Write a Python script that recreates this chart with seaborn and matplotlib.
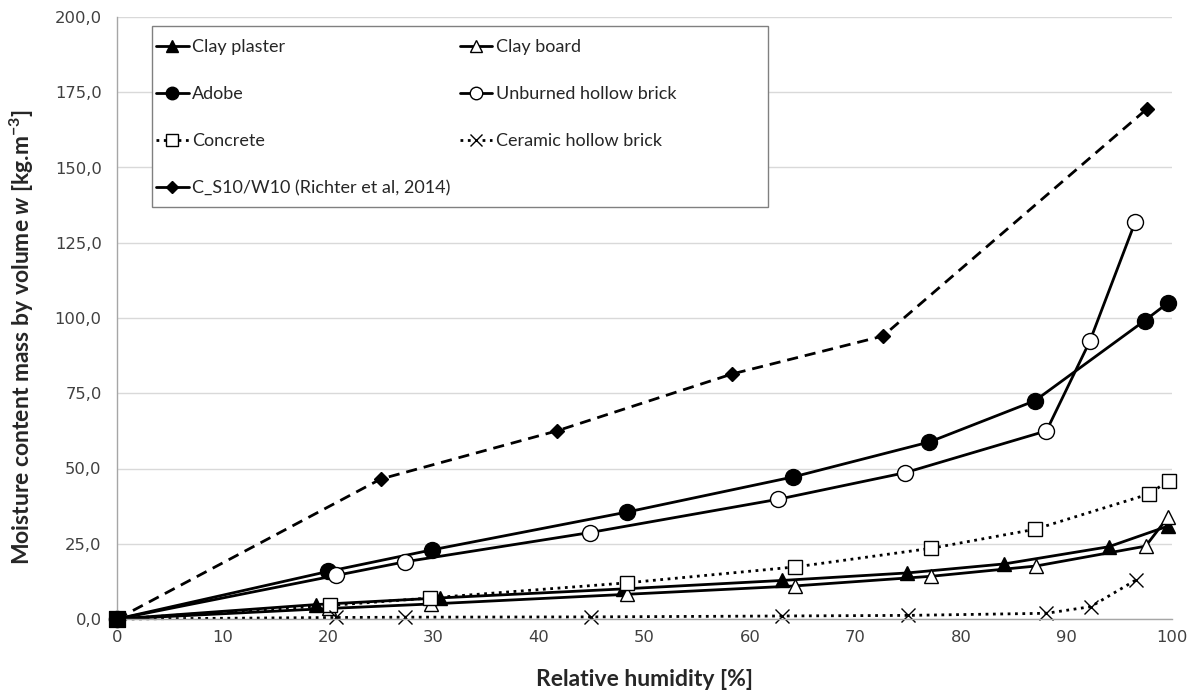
import matplotlib
matplotlib.use("Agg")
import matplotlib.pyplot as plt
from matplotlib.lines import Line2D
from matplotlib.patches import Rectangle
from matplotlib.ticker import FuncFormatter
import seaborn as sns
import pandas as pd

# ---- data ----
rh_plaster = [0, 18.9, 30.6, 48.0, 63.0, 74.9, 84.1, 94.0, 99.65]
w_plaster = [0, 4.8, 7.0, 10.0, 12.8, 15.3, 18.3, 24.0, 30.9]

rh_board = [0, 20.1, 29.8, 48.3, 64.3, 77.2, 87.1, 97.5, 99.65]
w_board = [0, 3.5, 5.0, 8.2, 11.0, 14.2, 17.6, 24.2, 34.0]

rh_adobe = [0, 20.0, 29.9, 48.3, 64.1, 77.0, 87.0, 97.4, 99.65]
w_adobe = [0, 15.8, 23.0, 35.5, 47.2, 58.8, 72.5, 99.1, 105.1]

rh_unburned = [0, 20.8, 27.3, 44.8, 62.7, 74.7, 88.1, 92.2, 96.5]
w_unburned = [0, 14.5, 19.0, 28.7, 39.8, 48.6, 62.5, 92.2, 131.8]

rh_concrete = [0, 20.2, 29.7, 48.3, 64.3, 77.2, 87.0, 97.8, 99.7]
w_concrete = [0, 4.5, 7.0, 12.0, 17.3, 23.5, 29.8, 41.5, 46.0]

rh_ceramic = [0, 20.8, 27.3, 44.9, 63.0, 75.0, 88.1, 92.3, 96.6]
w_ceramic = [0, 0.5, 0.6, 0.7, 1.0, 1.2, 1.9, 4.1, 13.0]

rh_richter = [0, 25.0, 41.7, 58.3, 72.6, 97.6]
w_richter = [0, 46.5, 62.5, 81.4, 94.0, 169.4]

labels = ["Clay plaster", "Clay board", "Adobe", "Unburned hollow brick",
          "Concrete", "Ceramic hollow brick", "C_S10/W10 (Richter et al, 2014)"]

x_ticks = list(range(0, 101, 10))
y_ticks = list(range(0, 201, 25))

# ---- styling ----
sns.set_theme(style="white")
plt.rcParams["font.family"] = ["Lato", "DejaVu Sans"]
plt.rcParams["mathtext.fontset"] = "custom"
plt.rcParams["mathtext.rm"] = "Lato"
plt.rcParams["mathtext.it"] = "Lato:italic"
plt.rcParams["mathtext.bf"] = "Lato:bold"
plt.rcParams["mathtext.bfit"] = "Lato:bold:italic"

W, H = 1187, 695
fig = plt.figure(figsize=(W / 100, H / 100), dpi=100)
ax = fig.add_axes([117 / W, 76 / H, (1172 - 117) / W, (619 - 17) / H])

series = [
    (rh_plaster, w_plaster, dict(marker="^", ms=10, mfc="black", ls="-", start=0)),
    (rh_board, w_board, dict(marker="^", ms=10, mfc="white", ls="-", start=0)),
    (rh_adobe, w_adobe, dict(marker="o", ms=11.5, mfc="black", ls="-", start=0)),
    (rh_unburned, w_unburned, dict(marker="o", ms=11.5, mfc="white", ls="-", start=0)),
    (rh_concrete, w_concrete, dict(marker="s", ms=10.5, mfc="white", ls=":", start=1)),
    (rh_ceramic, w_ceramic, dict(marker="x", ms=10, mfc="black", ls=":", start=0)),
    (rh_richter, w_richter, dict(marker="D", ms=7, mfc="black", ls=(0, (4, 2.5)), start=0)),
]

for (xs, ys, st), lab in zip(series, labels):
    df = pd.DataFrame({"rh": xs, "w": ys})
    sns.lineplot(data=df, x="rh", y="w", ax=ax, color="black", linewidth=2,
                 linestyle=st["ls"], marker=st["marker"], markersize=st["ms"],
                 markerfacecolor=st["mfc"], markeredgecolor="black",
                 markeredgewidth=1.0, sort=False, legend=False,
                 markevery=slice(st["start"], None), clip_on=False)

# origin point of the concrete series appears as a solid black square
sns.scatterplot(x=rh_concrete[:1], y=w_concrete[:1], ax=ax, marker="s", s=130,
                color="black", edgecolor="black", legend=False, clip_on=False,
                zorder=5)

ax.set_xlim(0, 100)
ax.set_ylim(0, 200)
ax.set_xticks(x_ticks)
ax.set_yticks(y_ticks)
ax.yaxis.set_major_formatter(FuncFormatter(lambda v, p: f"{v:.1f}".replace(".", ",")))
ax.grid(axis="y", color="#d9d9d9", linewidth=1)
ax.grid(axis="x", visible=False)
ax.set_axisbelow(True)
for s in ["top", "right"]:
    ax.spines[s].set_visible(False)
for s in ["left", "bottom"]:
    ax.spines[s].set_color("#a6a6a6")
    ax.spines[s].set_linewidth(1)
ax.tick_params(axis="both", length=0, labelsize=11.8, colors="#404040")
for t in ax.get_xticklabels() + ax.get_yticklabels():
    t.set_family(["DejaVu Sans"])
ax.tick_params(axis="y", pad=11)
ax.tick_params(axis="x", pad=8)

ax.set_xlabel("Relative humidity [%]", fontsize=16.5, fontweight="bold")
ax.set_ylabel(r"Moisture content mass by volume $\mathbfit{w}$ [kg.m$^{\mathbf{-3}}$]",
              fontsize=16.5, fontweight="bold")
ax.xaxis.set_label_coords((645 - 117) / 1055, -(680 - 619) / 602)
ax.yaxis.set_label_coords((22 - 117) / 1055, (619 - 337) / 602)
ax.xaxis.label.set_va("center")
ax.yaxis.label.set_va("center")

# legend box (fixed size, as in the reference)
box = Rectangle((152 / W, (H - 207) / H), 616 / W, 181 / H, transform=fig.transFigure,
                facecolor="white", edgecolor="#808080", linewidth=1, zorder=6)
fig.add_artist(box)


def h(marker, ms, mfc, ls):
    return Line2D([0], [0], color="black", lw=2, ls=ls, marker=marker, markersize=ms,
                  markerfacecolor=mfc, markeredgecolor="black", markeredgewidth=1)


handles = {
    "Clay plaster": h("^", 8, "black", "-"),
    "Clay board": h("^", 8, "white", "-"),
    "Adobe": h("o", 9, "black", "-"),
    "Unburned hollow brick": h("o", 9, "white", "-"),
    "Concrete": h("s", 8, "white", ":"),
    "Ceramic hollow brick": h("x", 8, "black", ":"),
    "C_S10/W10 (Richter et al, 2014)": h("D", 6, "black", "-"),
}
order = ["Clay plaster", "Adobe", "Concrete", "C_S10/W10 (Richter et al, 2014)",
         "Clay board", "Unburned hollow brick", "Ceramic hollow brick"]
leg = fig.legend([handles[k] for k in order], order, ncol=2, loc="upper left",
                 bbox_to_anchor=(156 / W, (H - 39) / H), borderaxespad=0,
                 frameon=False, fontsize=13, labelspacing=1.72,
                 handlelength=1.8, handletextpad=0.2, columnspacing=0.5,
                 borderpad=0)
leg.set_zorder(7)

fig.savefig("out.png", dpi=100)
